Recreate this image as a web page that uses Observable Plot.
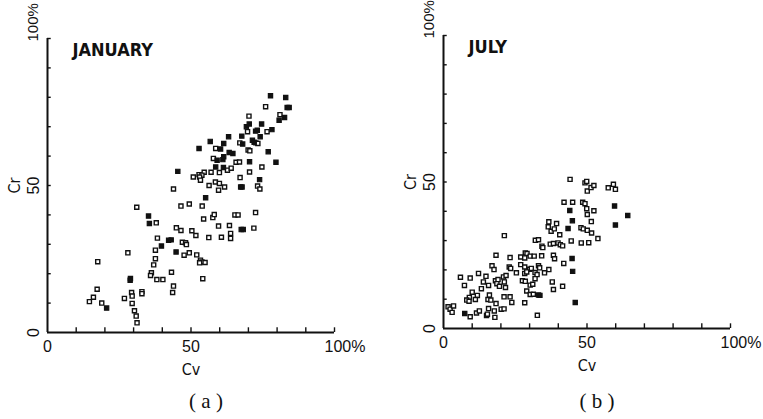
<!DOCTYPE html>
<html>
<head>
<meta charset="utf-8">
<script src="https://cdn.jsdelivr.net/npm/d3@7"></script>
<script src="https://cdn.jsdelivr.net/npm/@observablehq/plot@0.6"></script>
<style>
  html, body { margin: 0; padding: 0; background: #fff; overflow: hidden; }
  #wrap { position: relative; width: 763px; height: 419px; }
  .panel { position: absolute; top: 0; }
  .cap { position: absolute; top: 389px; font-family: "Liberation Serif", "DejaVu Serif", serif; font-size: 21px; color: #111; white-space: pre; transform: translateX(-50%); }
</style>
</head>
<body>
<div id="wrap">
  <div id="pa" class="panel" style="left:0px"></div>
  <div id="pb" class="panel" style="left:396px"></div>
  <div class="cap" style="left:206px">( a )</div>
  <div class="cap" style="left:597px">( b )</div>
</div>
<script>
// ---- tick values / labels ----
const tickVals = [10, 20, 30, 40, 50, 60, 70, 80, 90, 100];
const labelVals = [0, 50];
const endLabel = "100%";
const xTitle = "Cv";
const yTitle = "Cr";
const titles = ["JANUARY", "JULY"];

// ---- JANUARY (a): open squares ----
const janOpenX = [76.0,70.2,81.0,69.7,76.5,67.0,72.6,73.3,58.6,69.9,70.5,57.8,65.7,66.9,74.7,62.7,64.0,54.6,57.0,59.9,52.8,53.8,50.8,53.0,53.3,58.5,59.9,61.7,59.6,56.3,70.4,67.1,73.2,74.0,43.9,49.4,46.5,53.9,31.1,54.4,57.6,58.1,65.3,66.4,72.5,37.9,59.6,63.4,44.9,46.5,50.3,71.9,38.3,51.7,56.2,60.6,63.8,63.8,47.0,48.1,48.4,37.6,47.6,49.4,52.0,28.0,37.6,53.3,53.8,53.0,54.9,37.0,17.5,36.2,35.9,43.2,38.1,40.2,54.1,43.9,43.6,17.3,32.9,32.9,29.3,29.5,26.8,16.0,14.6,18.9,29.5,30.3,30.9,31.2];
const janOpenY = [76.8,73.6,74.1,68.3,68.3,64.5,64.5,64.3,62.6,62.1,61.8,59.2,57.9,58.0,56.3,55.2,55.9,54.5,54.5,54.4,53.7,53.5,52.9,52.9,51.8,51.2,50.7,49.5,48.4,50.0,54.6,52.7,49.8,48.8,48.8,43.7,43.0,43.0,42.6,38.6,39.1,40.1,40.0,40.0,40.8,37.3,36.2,36.4,35.6,34.7,34.6,35.5,32.1,33.0,32.3,32.4,33.7,32.0,30.7,30.5,29.9,28.0,26.3,27.1,26.4,27.1,25.1,24.6,24.0,23.7,23.8,23.0,24.1,20.3,19.4,20.5,18.0,18.0,18.3,15.8,13.6,14.7,13.9,13.2,13.6,12.4,11.6,12.0,10.5,10.0,9.9,7.4,5.6,3.3];
// ---- JANUARY (a): filled marks ----
const janFilledX = [77.7,83.0,83.5,84.2,82.6,80.7,74.6,70.3,69.3,72.5,73.1,78.2,63.1,67.7,74.1,56.7,68.0,71.4,72.0,52.8,60.3,61.4,63.3,64.6,59.1,61.4,61.1,70.4,76.9,79.6,58.6,61.3,45.4,73.9,67.3,67.8,55.1,35.2,35.5,67.5,68.2,42.2,43.1,39.7,44.8,28.9,28.8,20.6];
const janFilledY = [80.5,79.9,76.5,76.5,73.1,72.2,70.9,70.9,70.0,68.5,68.8,69.0,66.6,66.8,66.6,65.0,64.1,65.4,64.7,62.6,62.4,64.3,61.2,60.9,58.6,59.8,58.8,58.1,61.5,57.9,56.3,56.1,54.8,52.0,49.5,49.5,45.8,39.6,37.1,35.0,35.0,31.4,31.5,29.4,27.4,18.4,17.8,8.3];

// ---- JULY (b): open squares ----
const julOpenX = [44.1,49.3,49.9,50.1,51.4,52.4,57.4,59.2,59.9,42.0,45.0,48.5,49.3,49.9,50.1,52.4,51.5,36.7,36.5,39.4,37.5,38.6,47.9,48.7,50.1,51.6,53.8,40.5,21.2,32.0,33.1,34.3,34.6,37.2,38.3,39.9,40.7,41.5,44.5,48.0,50.6,28.5,29.1,30.2,31.6,34.2,38.3,38.7,18.3,23.2,26.9,28.3,41.9,16.9,17.6,22.9,23.4,26.9,28.3,30.0,30.6,33.1,33.5,36.7,35.2,25.4,28.3,29.0,31.9,32.6,20.9,21.8,18.1,19.0,27.5,28.5,30.2,31.1,31.9,21.2,14.8,12.2,5.9,9.3,7.3,13.9,15.7,18.6,19.5,21.6,37.9,38.3,41.5,29.0,30.2,31.3,13.2,11.8,10.0,9.0,8.1,8.9,11.1,16.0,15.5,16.5,21.1,23.2,23.8,18.3,28.3,1.6,2.3,3.5,3.0,9.3,11.5,12.5,15.0,15.3,15.7,17.7,17.9,20.1,21.1,32.7];
const julOpenY = [50.9,49.7,50.2,46.9,48.1,48.8,48.0,49.2,47.5,43.1,43.1,43.1,42.6,40.9,38.9,40.2,36.5,36.4,34.7,35.8,33.2,34.0,34.4,34.0,33.5,32.6,30.7,32.0,31.7,30.1,30.3,28.1,27.6,28.8,29.0,29.2,28.6,28.2,29.9,29.2,29.3,25.8,25.6,24.7,24.7,24.8,25.0,23.8,25.0,24.2,24.4,24.1,22.2,21.4,20.1,21.0,20.5,21.8,21.0,20.2,20.5,21.4,20.7,20.1,19.0,19.0,18.8,19.3,19.1,18.4,17.6,18.1,16.3,16.7,16.3,16.1,14.8,15.1,17.0,15.9,17.8,18.8,17.5,17.2,14.7,15.9,14.7,15.3,14.4,14.0,15.9,13.3,14.4,12.8,11.6,11.7,13.6,11.3,12.4,10.6,9.7,9.3,9.9,11.4,9.9,9.7,10.8,10.8,8.9,8.5,8.8,7.4,6.6,7.7,5.5,4.0,5.3,6.0,4.4,4.9,6.8,6.0,3.8,6.6,6.7,4.5];
// ---- JULY (b): filled marks ----
const julFilledX = [64.2,44.9,59.9,59.6,43.4,44.0,44.8,45.0,45.9,7.4,33.1,33.6];
const julFilledY = [38.6,36.8,35.3,41.8,34.1,40.3,23.9,19.5,8.9,5.1,11.4,11.3];

const pts = (X, Y) => X.map((x, i) => ({x, y: Y[i]}));

const sansNarrow = '"Liberation Sans Narrow", "DejaVu Sans Condensed", "Liberation Sans", sans-serif';
const sans = '"Liberation Sans", "DejaVu Sans", sans-serif';

function panel({open, filled, title, width, marginTop, marginBottom, marginRight}) {
  return Plot.plot({
    width, height: 380,
    marginLeft: 47, marginRight, marginTop, marginBottom,
    x: {domain: [0, 100], axis: null},
    y: {domain: [0, 100], axis: null},
    style: {background: "#fff", color: "#111", overflow: "visible"},
    marks: [
      Plot.ruleY([0], {x1: 0, x2: 100, stroke: "#111", strokeWidth: 2}),
      Plot.ruleX([0], {y1: 0, y2: 100, stroke: "#111", strokeWidth: 2}),
      Plot.ruleX(tickVals, {x: d => d, y1: 0, y2: 1.6, stroke: "#111", strokeWidth: 1.4}),
      Plot.ruleY(tickVals, {y: d => d, x1: 0, x2: 1.3, stroke: "#111", strokeWidth: 1.4}),
      Plot.text(labelVals, {x: d => d, y: 0, dy: 14, text: d => String(d), fontSize: 16, fontFamily: sans, fill: "#111"}),
      Plot.text([100], {x: d => d, y: 0, dy: 14, dx: -10, textAnchor: "start", text: () => endLabel, fontSize: 16, fontFamily: sans, fill: "#111"}),
      Plot.text(labelVals, {y: d => d, x: 0, dx: -14, rotate: -90, text: d => String(d), fontSize: 16, fontFamily: sans, fill: "#111"}),
      Plot.text([100], {y: d => d, x: 0, dx: -14, dy: 3, rotate: -90, textAnchor: "start", text: () => endLabel, fontSize: 15, fontFamily: sans, fill: "#111"}),
      Plot.text([yTitle], {x: 0, y: 50, dx: -33, rotate: -90, text: d => d, fontSize: 16, fontFamily: sansNarrow, fill: "#111"}),
      Plot.text([xTitle], {x: 50, y: 0, dy: 37, text: d => d, fontSize: 16, fontFamily: sansNarrow, fill: "#111"}),
      Plot.text([title], {frameAnchor: "top-left", dx: 25, dy: 5, textAnchor: "start", lineAnchor: "top", text: d => d, fontSize: 18, fontWeight: "bold", fontFamily: sansNarrow, fill: "#111"}),
      Plot.dot(open, {x: "x", y: "y", symbol: "square", r: 2.3, fill: "#fff", stroke: "#111", strokeWidth: 1.4}),
      Plot.dot(filled, {x: "x", y: "y", symbol: "square", r: 2.4, fill: "#111", stroke: "#111", strokeWidth: 1.2})
    ]
  });
}

document.getElementById("pa").append(panel({
  open: pts(janOpenX, janOpenY), filled: pts(janFilledX, janFilledY),
  title: titles[0], width: 381, marginTop: 38, marginBottom: 48, marginRight: 47
}));
document.getElementById("pb").append(panel({
  open: pts(julOpenX, julOpenY), filled: pts(julFilledX, julFilledY),
  title: titles[1], width: 366, marginTop: 35, marginBottom: 52, marginRight: 32
}));
</script>
</body>
</html>
